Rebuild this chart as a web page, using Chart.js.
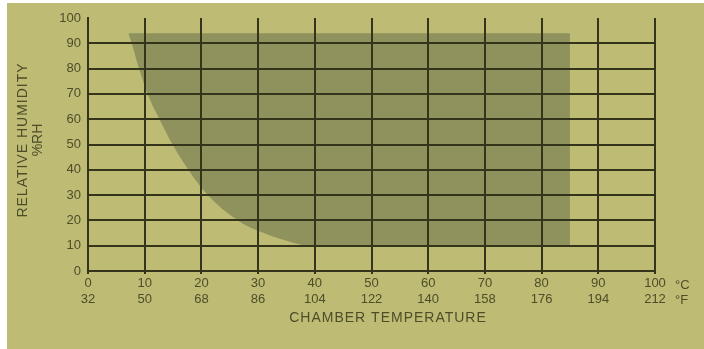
<!DOCTYPE html>
<html>
<head>
<meta charset="utf-8">
<script src="https://cdn.jsdelivr.net/npm/chart.js@4.4.1/dist/chart.umd.min.js"></script>
<style>
    html, body { margin: 0; padding: 0; background: #ffffff; }
    #wrap {
        position: absolute; left: 7px; top: 3px;
        width: 697px; height: 346px;
        background: #bebc74;
    }
</style>
</head>
<body>
<div id="wrap"><canvas id="chamberChart"></canvas></div>
<script>
// temperature ticks, celsius with the fahrenheit equivalents underneath
const tempC = [0, 10, 20, 30, 40, 50, 60, 70, 80, 90, 100];
const tempF = [32, 50, 68, 86, 104, 122, 140, 158, 176, 194, 212];
const rhTicks = [0, 10, 20, 30, 40, 50, 60, 70, 80, 90, 100];

// left/lower edge of the operating zone (temp in C, relative humidity %)
const zoneTemp = [7.1, 7.7, 9.0, 10.5, 12.6, 14.9, 17.7, 21.1, 26.4, 31, 35, 39, 85];
const zoneRH   = [94, 90, 80, 70, 60, 50, 40, 30, 20, 15, 12, 10, 10];
const zoneTopRH = 94;

const inkColor = '#4d4d28';
const gridColor = '#34341a';
const fontFamily = '"Liberation Sans", Arial, sans-serif';

// extra labels: units at the end of the x ticks and the two axis titles
const labelsPlugin = {
    id: 'labelsPlugin',
    afterDraw(chart) {
        const ctx = chart.ctx;
        const x = chart.scales.x;
        const area = chart.chartArea;
        ctx.save();
        ctx.fillStyle = inkColor;
        ctx.font = '13px ' + fontFamily;
        ctx.textAlign = 'left';
        ctx.textBaseline = 'middle';
        const xEnd = x.getPixelForValue(100);
        ctx.fillText('°C', xEnd + 20, area.bottom + 14);
        ctx.fillText('°F', xEnd + 20, area.bottom + 29);

        ctx.font = '14px ' + fontFamily;
        ctx.letterSpacing = '1px';
        ctx.textAlign = 'center';
        ctx.fillText('CHAMBER TEMPERATURE', 381, area.bottom + 47);

        ctx.translate(16, 137);
        ctx.rotate(-Math.PI / 2);
        ctx.fillText('RELATIVE HUMIDITY', 0, 0);
        ctx.letterSpacing = '0px';
        ctx.fillText('%RH', 0, 15);
        ctx.restore();
    }
};

const ctx = document.getElementById('chamberChart').getContext('2d');
new Chart(ctx, {
    type: 'line',
    data: {
        datasets: [{
            label: 'Operating range',
            data: zoneTemp.map((t, i) => ({ x: t, y: zoneRH[i] })),
            borderWidth: 0,
            borderColor: 'rgba(0,0,0,0)',
            pointRadius: 0,
            cubicInterpolationMode: 'monotone',
            backgroundColor: '#8f925d',
            fill: { value: zoneTopRH }
        }]
    },
    options: {
        responsive: true,
        maintainAspectRatio: false,
        animation: false,
        layout: { padding: { top: 15, right: 49, left: 0, bottom: 0 } },
        plugins: {
            legend: { display: false },
            tooltip: { enabled: false }
        },
        scales: {
            x: {
                type: 'linear',
                min: 0,
                max: 100,
                afterFit: scale => { scale.height = 78; },
                afterBuildTicks: scale => {
                    scale.ticks = tempC.map(v => ({ value: v }));
                },
                grid: {
                    color: gridColor,
                    lineWidth: 2,
                    z: 1,
                    drawTicks: true,
                    tickLength: 3
                },
                // border has to be drawn after the grid, grid sits above the fill
                border: { color: gridColor, width: 2, z: 2 },
                ticks: {
                    color: inkColor,
                    font: { family: fontFamily, size: 13 },
                    padding: 2,
                    maxRotation: 0,
                    callback: (v) => {
                        const i = tempC.indexOf(v);
                        return [String(tempC[i]), String(tempF[i])];
                    }
                }
            },
            y: {
                min: 0,
                max: 100,
                afterFit: scale => { scale.width = 81; },
                afterBuildTicks: scale => {
                    scale.ticks = rhTicks.map(v => ({ value: v }));
                },
                grid: {
                    color: c => c.tick && c.tick.value === 100 ? 'rgba(0,0,0,0)' : gridColor,
                    lineWidth: 2,
                    z: 1,
                    drawTicks: false
                },
                border: { color: gridColor, width: 2, z: 2 },
                ticks: {
                    color: inkColor,
                    font: { family: fontFamily, size: 13 },
                    padding: 7
                }
            }
        }
    },
    plugins: [labelsPlugin]
});
</script>
</body>
</html>
